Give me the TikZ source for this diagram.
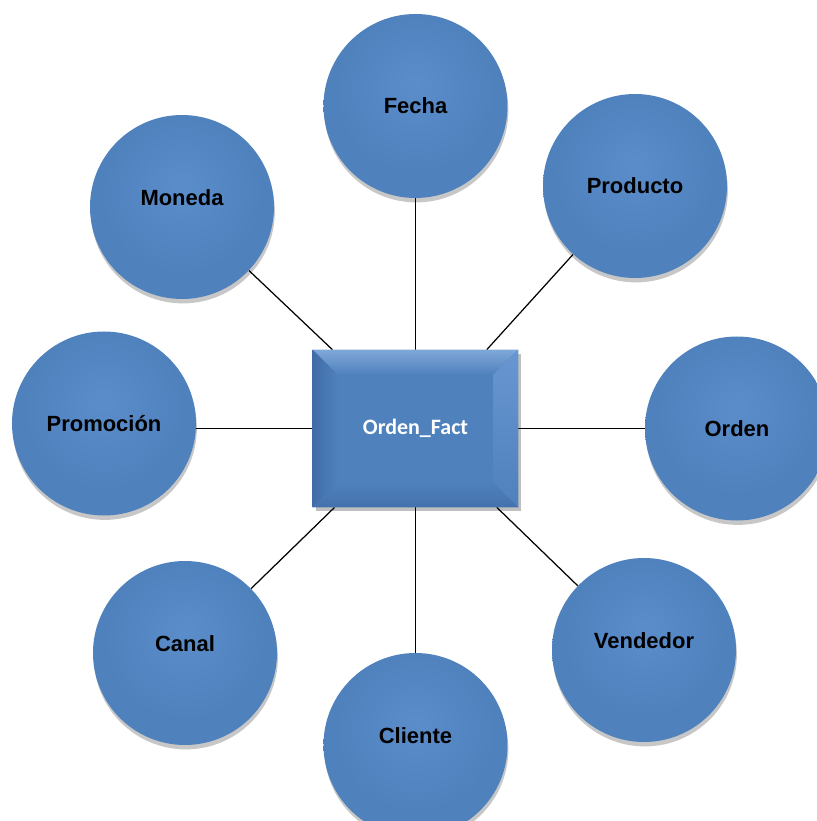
\documentclass[tikz,border=0pt]{standalone}
\usepackage{fontspec}
\setmainfont{Liberation Sans}
\newfontfamily\factfont{Carlito}
\usepackage{tikz}
\definecolor{dimblue}{RGB}{79,129,189}
\definecolor{dimlight}{RGB}{90,141,202}
\definecolor{dimdark}{RGB}{62,104,160}
\definecolor{bevtop}{RGB}{128,168,218}
\definecolor{bevleft}{RGB}{64,108,166}
\definecolor{bevright}{RGB}{104,150,208}
\definecolor{bevbottom}{RGB}{68,113,172}
\usetikzlibrary{calc}
\usetikzlibrary{calc, shadows, backgrounds}
\pgfdeclareradialshading{dimball}{\pgfpoint{0bp}{6bp}}{color(0bp)=(dimlight); color(22bp)=(dimblue); color(43bp)=(dimblue); color(50bp)=(dimdark); color(60bp)=(dimdark)}
\tikzset{%
  dim/.style={circle, shade, shading=dimball, minimum size=3.68cm, inner sep=0pt,
    drop shadow={shadow xshift=0.5pt, shadow yshift=-2.5pt, opacity=0.22, fill=black},
    font=\bfseries\fontsize{12.5}{15}\selectfont},% dimension tables
  fact/.style={rectangle, fill=dimblue, minimum width=4.1cm, minimum height=3.14cm,
    drop shadow={shadow xshift=1.5pt, shadow yshift=-2pt, opacity=0.25, fill=black}},% fact table
  factlabel/.style={text=white, font=\factfont\bfseries\fontsize{12.5}{15}\selectfont},
  link/.style={draw=black, line width=0.7pt}% star joins
}
\newcommand*{\bevel}{0.5}
\newcommand*{\up}[1]{\raisebox{0.18cm}[\height][\depth]{#1}}

\begin{document}
\begin{tikzpicture}
\useasboundingbox (-8.31,-7.85) rectangle (8.03,8.57);

\node[fact] (orden_fact) at (0, 0) {};
\coordinate (nwi) at ($(orden_fact.north west)+(\bevel,-\bevel)$);
\coordinate (nei) at ($(orden_fact.north east)+(-\bevel,-\bevel)$);
\coordinate (sei) at ($(orden_fact.south east)+(-\bevel,\bevel)$);
\coordinate (swi) at ($(orden_fact.south west)+(\bevel,\bevel)$);
\shade[top color=bevtop, bottom color=dimblue] (orden_fact.north west) -- (orden_fact.north east) -- (nei) -- (nwi) -- cycle;
\shade[left color=bevleft, right color=dimblue] (orden_fact.north west) -- (nwi) -- (swi) -- (orden_fact.south west) -- cycle;
\shade[top color=bevright, bottom color=dimblue] (orden_fact.north east) -- (orden_fact.south east) -- (sei) -- (nei) -- cycle;
\shade[top color=dimblue, bottom color=bevbottom] (orden_fact.south west) -- (swi) -- (sei) -- (orden_fact.south east) -- cycle;
\node[factlabel] (orden_fact_label) at (orden_fact.center) {Orden\_Fact};

\node[dim] (fecha) at (0, 6.45) {Fecha};
\node[dim] (producto) at (4.39, 4.85) {Producto};
\node[dim] (moneda) at (-4.67, 4.43) {\up{Moneda}};
\node[dim] (promocion) at (-6.23, 0.1) {Promoción};
\node[dim] (orden) at (6.43, 0) {Orden};
\node[dim] (vendedor) at (4.57, -4.43) {\up{Vendedor}};
\node[dim] (cliente) at (0, -6.33) {\up{Cliente}};
\node[dim] (canal) at (-4.61, -4.49) {\up{Canal}};

\begin{scope}[on background layer]
\draw[link] (orden_fact) -- (fecha);
\draw[link] (orden_fact) -- (producto);
\draw[link] (orden_fact) -- (moneda);
\draw[link] (orden_fact.west) -- (orden_fact.west -| promocion.east);
\draw[link] (orden_fact) -- (orden);
\draw[link] (orden_fact) -- (vendedor);
\draw[link] (orden_fact) -- (cliente);
\draw[link] (orden_fact) -- (canal);
\end{scope}
\end{tikzpicture}
\end{document}
